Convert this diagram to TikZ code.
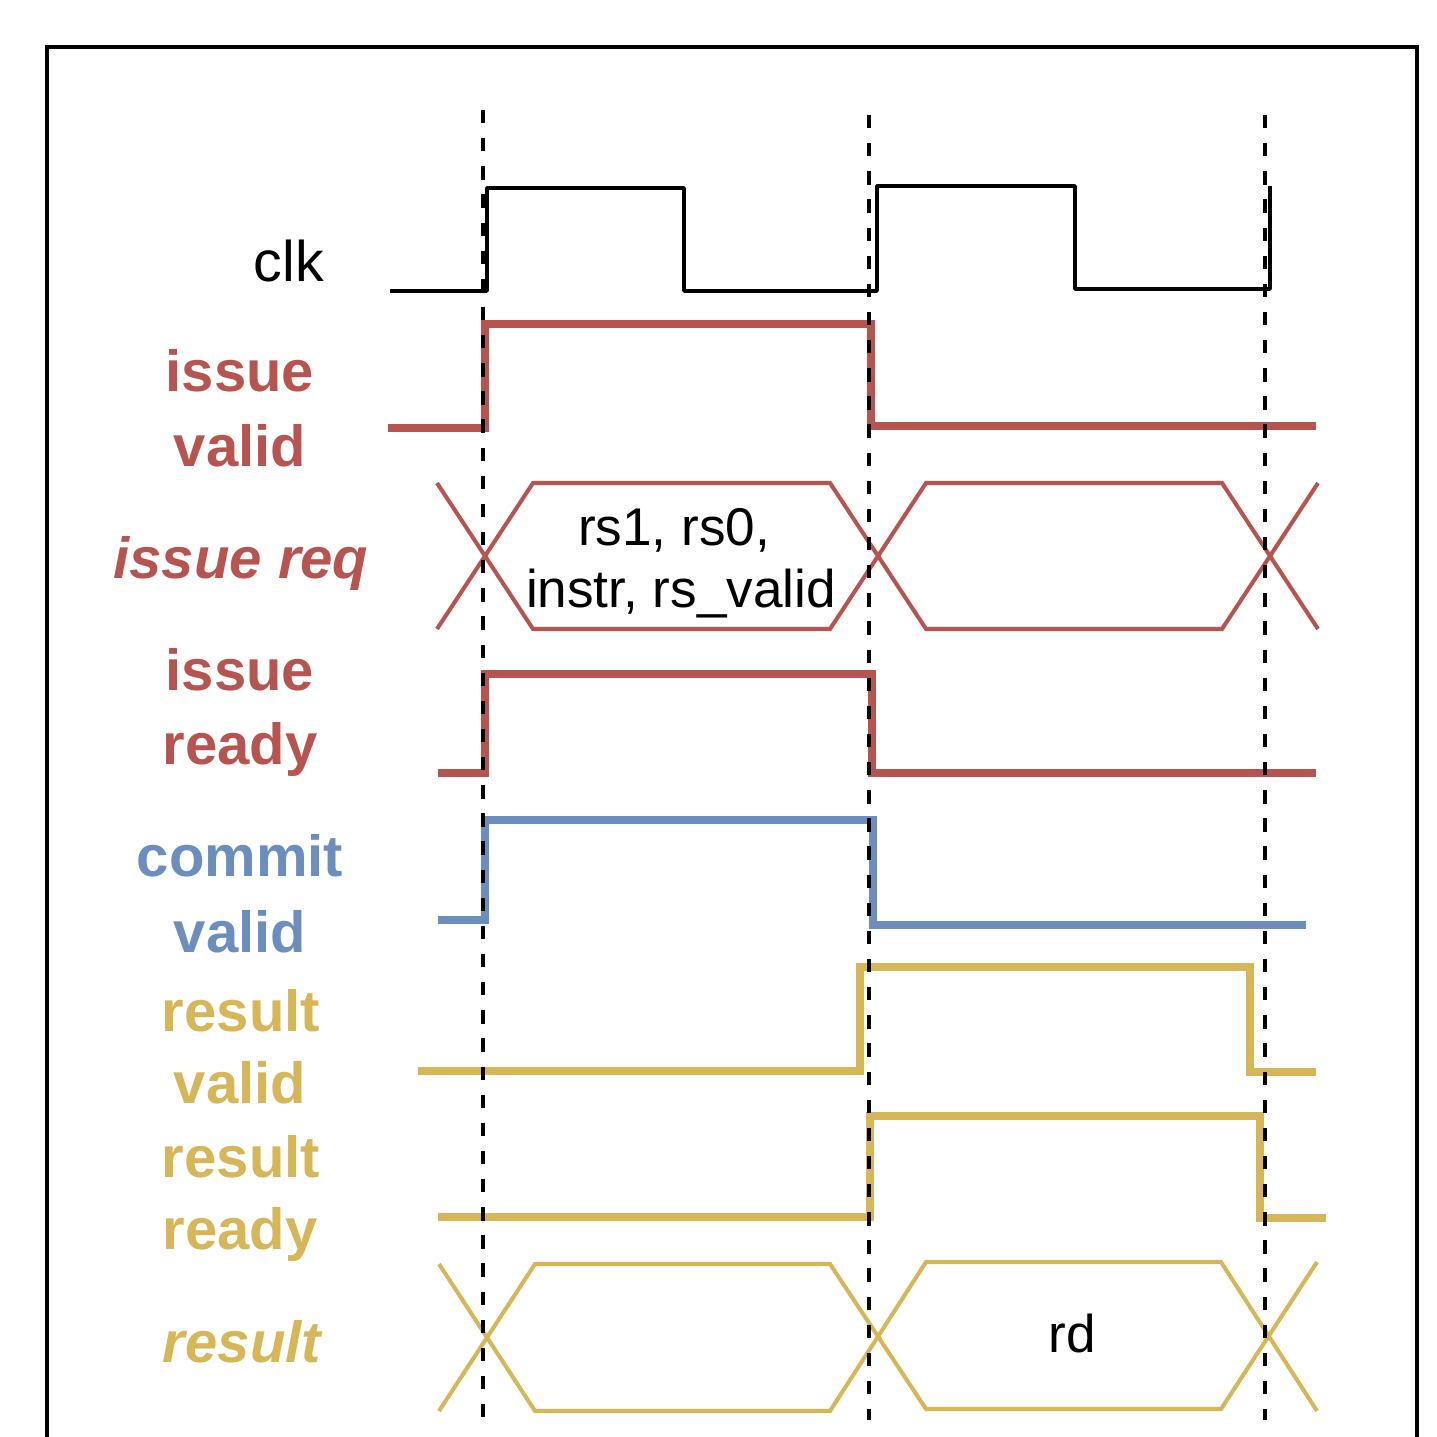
\documentclass[tikz,border=0pt]{standalone}
\usepackage{fontspec}
\setmainfont{Liberation Sans}
\definecolor{sigred}{HTML}{B85450}
\definecolor{sigblue}{HTML}{6C8EBF}
\definecolor{sigyellow}{HTML}{D6B656}
\begin{document}
\begin{tikzpicture}[
  x=0.01cm, y=-0.01cm,
  frameline/.style={black, line width=1.4pt},
  clkline/.style={black, line width=1.05pt, line join=round},
  level/.style={line width=2.1pt, line join=miter},
  busline/.style={line width=1.15pt, line join=miter},
  edgeline/.style={black, line width=1.05pt, dash pattern=on 3.8pt off 4.2pt},
  siglabel/.style={font=\fontsize{16.5}{19}\selectfont\bfseries, anchor=base, inner sep=0pt},
  buslabel/.style={font=\fontsize{15.1}{17.6}\selectfont, anchor=base, inner sep=0pt}
]
\useasboundingbox (0,0) rectangle (1436,1437);

% outer frame (open at the bottom edge of the page)
\draw[frameline] (47,1437) -- (47,47) -- (1417,47) -- (1417,1437);

% clock
\draw[clkline] (390,291) -- (487,291) -- (487,188) -- (684,188) -- (684,291)
  -- (877,291) -- (877,186) -- (1075,186) -- (1075,289) -- (1270,289) -- (1270,186);

% issue valid
\draw[level, sigred] (388,428) -- (485,428) -- (485,324) -- (871,324) -- (871,426) -- (1316,426);

% issue req bus
\draw[busline, sigred] (437,483) -- (533,629) -- (830,629) -- (926,483) -- (1222,483) -- (1318,629);
\draw[busline, sigred] (437,629) -- (533,483) -- (830,483) -- (926,629) -- (1222,629) -- (1318,483);

% issue ready
\draw[level, sigred] (438,773) -- (485,773) -- (485,674) -- (872,674) -- (872,773) -- (1316,773);

% commit valid
\draw[level, sigblue] (438,920) -- (485,920) -- (485,820) -- (873,820) -- (873,925) -- (1306,925);

% result valid
\draw[level, sigyellow] (418,1071) -- (860,1071) -- (860,967) -- (1250,967) -- (1250,1072) -- (1316,1072);

% result ready
\draw[level, sigyellow] (438,1217) -- (870,1217) -- (870,1116) -- (1260,1116) -- (1260,1218) -- (1326,1218);

% result bus
\draw[busline, sigyellow] (439,1264) -- (535,1411) -- (830,1411) -- (926,1262) -- (1221,1262) -- (1317,1411);
\draw[busline, sigyellow] (439,1411) -- (535,1264) -- (830,1264) -- (926,1409) -- (1221,1409) -- (1317,1262);

% clock edge markers
\draw[edgeline] (483,110) -- (483,1420);
\draw[edgeline] (869,115) -- (869,1420);
\draw[edgeline] (1265,115) -- (1265,1420);

% signal names
\node[siglabel, font=\fontsize{16.3}{19}\selectfont\mdseries] (lclk) at (289,282) {clk};
\node[siglabel, sigred] (livA) at (240,392) {issue};
\node[siglabel, sigred] (livB) at (240,467) {valid};
\node[siglabel, sigred, font=\fontsize{16.5}{19}\selectfont\bfseries\itshape] (lreq) at (241,578) {issue req};
\node[siglabel, sigred] (lirA) at (240,690) {issue};
\node[siglabel, sigred] (lirB) at (240,764) {ready};
\node[siglabel, sigblue] (lcvA) at (240,876) {commit};
\node[siglabel, sigblue] (lcvB) at (240,952) {valid};
\node[siglabel, sigyellow] (lrvA) at (241,1031) {result};
\node[siglabel, sigyellow] (lrvB) at (240,1103) {valid};
\node[siglabel, sigyellow] (lrrA) at (241,1177) {result};
\node[siglabel, sigyellow] (lrrB) at (240,1249) {ready};
\node[siglabel, sigyellow, font=\fontsize{16.5}{19}\selectfont\bfseries\itshape] (lres) at (242,1362) {result};

% bus contents
\node[buslabel] (reqA) at (674,546) {rs1, rs0,};
\node[buslabel] (reqB) at (681,607) {instr, rs\_valid};
\node[buslabel] (resA) at (1072,1352) {rd};
\end{tikzpicture}
\end{document}
